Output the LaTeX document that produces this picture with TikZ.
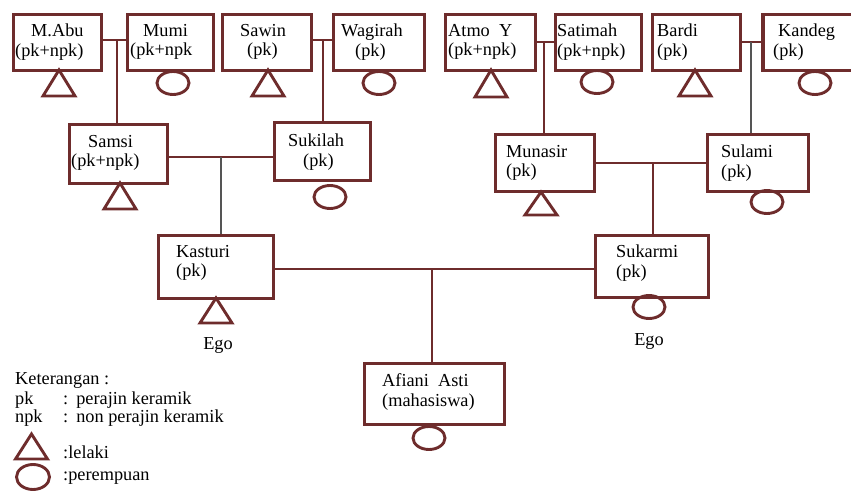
\documentclass[tikz,border=0pt]{standalone}
\usepackage{fontspec}
\setmainfont{Liberation Serif}
\definecolor{kinbrown}{RGB}{110,44,44}
\definecolor{kingray}{RGB}{85,85,85}
\begin{document}
\begin{tikzpicture}[x=1pt,y=-1pt,
  box/.style={draw=kinbrown,line width=3.4pt,rectangle,inner sep=0pt},
  txt/.style={anchor=west,inner sep=0pt,align=left,font=\fontsize{18.3}{19.5}\selectfont},
  conn/.style={draw=kinbrown,line width=1.4pt},
  conngray/.style={draw=kingray,line width=1.4pt},
  sym/.style={draw=kinbrown,line width=2.9pt}]
\useasboundingbox (0,0) rectangle (851,492);
\clip (0,0) rectangle (851,492);
% boxes row 1
\node[box,minimum width=88pt,minimum height=56pt] (abu) at (57.5,42.5) {};
\node[box,minimum width=86pt,minimum height=56pt] (mumi) at (170.5,42.5) {};
\node[box,minimum width=89pt,minimum height=56pt] (sawin) at (267,42.5) {};
\node[box,minimum width=91pt,minimum height=56pt] (wagirah) at (379,42.5) {};
\node[box,minimum width=90pt,minimum height=56pt] (atmo) at (490.5,42.5) {};
\node[box,minimum width=86pt,minimum height=56pt] (satimah) at (598.5,42.5) {};
\node[box,minimum width=88pt,minimum height=56pt] (bardi) at (696.5,42.5) {};
\node[box,minimum width=100pt,minimum height=56pt] (kandeg) at (813,42.5) {};
% row 2
\node[box,minimum width=98pt,minimum height=59pt] (samsi) at (118.5,154) {};
\node[box,minimum width=96pt,minimum height=58pt] (sukilah) at (322.5,151.5) {};
\node[box,minimum width=99pt,minimum height=57pt] (munasir) at (545,163) {};
\node[box,minimum width=101pt,minimum height=57pt] (sulami) at (758,163) {};
% row 3
\node[box,minimum width=115pt,minimum height=63pt] (kasturi) at (216,267) {};
\node[box,minimum width=113pt,minimum height=62pt] (sukarmi) at (652,266.5) {};
% row 4
\node[box,minimum width=140pt,minimum height=61pt] (afiani) at (434.5,394) {};
% texts
\node[txt] (tabu) at (15,42) {\hspace*{16pt}M.Abu\\(pk+npk)};
\node[txt] (tmumi) at (130,42) {\hspace*{13pt}Mumi\\(pk+npk};
\node[txt] (tsawin) at (240,42) {Sawin\\\hspace*{7pt}(pk)};
\node[txt] (twagirah) at (341,42) {Wagirah\\\hspace*{14pt}(pk)};
\node[txt] (tatmo) at (448,42) {Atmo~ Y\\(pk+npk)};
\node[txt] (tsatimah) at (557,42) {Satimah\\(pk+npk)};
\node[txt] (tbardi) at (657,42) {Bardi\\(pk)};
\node[txt] (tkandeg) at (773,42) {\hspace*{5pt}Kandeg\\(pk)};
\node[txt] (tsamsi) at (71,153) {\hspace*{17pt}Samsi\\(pk+npk)};
\node[txt] (tsukilah) at (288,152) {Sukilah\\\hspace*{15pt}(pk)};
\node[txt] (tmunasir) at (506,163) {Munasir\\(pk)};
\node[txt] (tsulami) at (721,163) {Sulami\\(pk)};
\node[txt] (tkasturi) at (176,263) {Kasturi\\(pk)};
\node[txt] (tsukarmi) at (616,263) {Sukarmi\\(pk)};
\node[txt] (tafiani) at (382,392) {Afiani~ Asti\\(mahasiswa)};
\node[txt,anchor=center] (ego1) at (218,345) {Ego};
\node[txt,anchor=center] (ego2) at (649,341) {Ego};
% connectors
\coordinate (m1) at (117,40);
\draw[conn] (abu.east|-m1) -- (mumi.west|-m1);
\draw[conn] (m1) -- (m1|-samsi.north);
\coordinate (m2) at (323,40);
\draw[conn] (sawin.east|-m2) -- (wagirah.west|-m2);
\draw[conn] (m2) -- (m2|-sukilah.north);
\coordinate (m3) at (544,42);
\draw[conn] (atmo.east|-m3) -- (satimah.west|-m3);
\draw[conn] (m3) -- (m3|-munasir.north);
\coordinate (m4) at (751,42);
\draw[conn] (bardi.east|-m4) -- (kandeg.west|-m4);
\draw[conngray,line width=1.1pt] (m4) -- (m4|-sulami.north);
\coordinate (m5) at (221,157);
\draw[conn] (samsi.east|-m5) -- (sukilah.west|-m5);
\draw[conngray] (m5) -- (m5|-kasturi.north);
\coordinate (m6) at (653,163);
\draw[conn] (munasir.east|-m6) -- (sulami.west|-m6);
\draw[conn] (m6) -- (m6|-sukarmi.north);
\coordinate (m7) at (432,269);
\draw[conn] (kasturi.east|-m7) -- (sukarmi.west|-m7);
\draw[conn] (m7) -- (m7|-afiani.north);
% male symbols
\draw[sym] (59,70) -- ++(-16,26) -- ++(32,0) -- cycle;
\draw[sym] (268,70) -- ++(-16,26) -- ++(32,0) -- cycle;
\draw[sym] (491,70) -- ++(-16,27) -- ++(32,0) -- cycle;
\draw[sym] (695,70) -- ++(-16,26) -- ++(32,0) -- cycle;
\draw[sym] (120,183) -- ++(-16,26) -- ++(32,0) -- cycle;
\draw[sym] (541,192) -- ++(-16,23) -- ++(32,0) -- cycle;
\draw[sym] (216,298) -- ++(-16,25) -- ++(32,0) -- cycle;
% female symbols
\draw[sym] (173,83) ellipse [x radius=16, y radius=11.5];
\draw[sym] (379,83) ellipse [x radius=16, y radius=11.5];
\draw[sym] (597,82) ellipse [x radius=16, y radius=11.5];
\draw[sym] (815,83) ellipse [x radius=16, y radius=11.5];
\draw[sym] (330,197) ellipse [x radius=16, y radius=11.5];
\draw[sym] (767,202) ellipse [x radius=16, y radius=11.5];
\draw[sym] (649,307) ellipse [x radius=16, y radius=11.5];
\draw[sym] (429,438) ellipse [x radius=16, y radius=11.5];
% legend
\node[txt] (ket) at (15,380) {Keterangan :};
\node[txt] (lpk) at (15,400) {\makebox[48pt][l]{pk}:\hspace{8pt}perajin keramik};
\node[txt] (lnpk) at (15,418) {\makebox[48pt][l]{npk}:\hspace{8pt}non perajin keramik};
\draw[sym] (31.5,434) -- ++(-16,25) -- ++(32,0) -- cycle;
\node[txt] (llel) at (63,452) {:lelaki};
\draw[sym] (33,477) ellipse [x radius=16.5, y radius=12.5];
\node[txt] (lper) at (63,478) {:perempuan};
\end{tikzpicture}
\end{document}
